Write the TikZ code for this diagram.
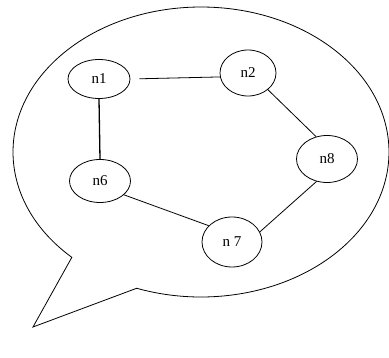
\documentclass[tikz,border=0pt]{standalone}
\usepackage{fontspec}
\setmainfont{Liberation Serif}
\usetikzlibrary{shapes.geometric}
\begin{document}
\begin{tikzpicture}[x=1pt,y=-1pt,
  nd/.style={draw, ellipse, inner sep=0pt, line width=0.8pt, font=\fontsize{15}{15}\selectfont},
  edge/.style={line width=0.8pt}]
\useasboundingbox (0,0) rectangle (389,358);
% speech bubble
\coordinate (ctr) at (201,152);
\coordinate (tip) at (33,327);
\draw[line width=0.8pt] (ctr) ++(133.4:188 and 145) arc[start angle=133.4, end angle=470, x radius=188, y radius=145] -- (tip) -- cycle;
% nodes
\node[nd, minimum width=62pt, minimum height=39pt] (n1) at (99,79) {n1};
\node[nd, minimum width=56pt, minimum height=46pt] (n2) at (248,73) {n2};
\node[nd, minimum width=61pt, minimum height=47pt] (n8) at (327,159) {n8};
\node[nd, minimum width=61pt, minimum height=43pt] (n6) at (100,181) {n6};
\node[nd, minimum width=60pt, minimum height=50pt] (n7) at (232,242) {n 7};
% edges
\draw[edge, shorten <=9pt] (n1.east) -- (n2.188);
\draw[line width=1.3pt] (n1.south) -- (n6.north);
\draw[edge] (n2.320) -- (n8.116);
\draw[edge] (n8.245) -- (n7.20);
\draw[edge] (n6.330) -- (n7.145);
\end{tikzpicture}
\end{document}
